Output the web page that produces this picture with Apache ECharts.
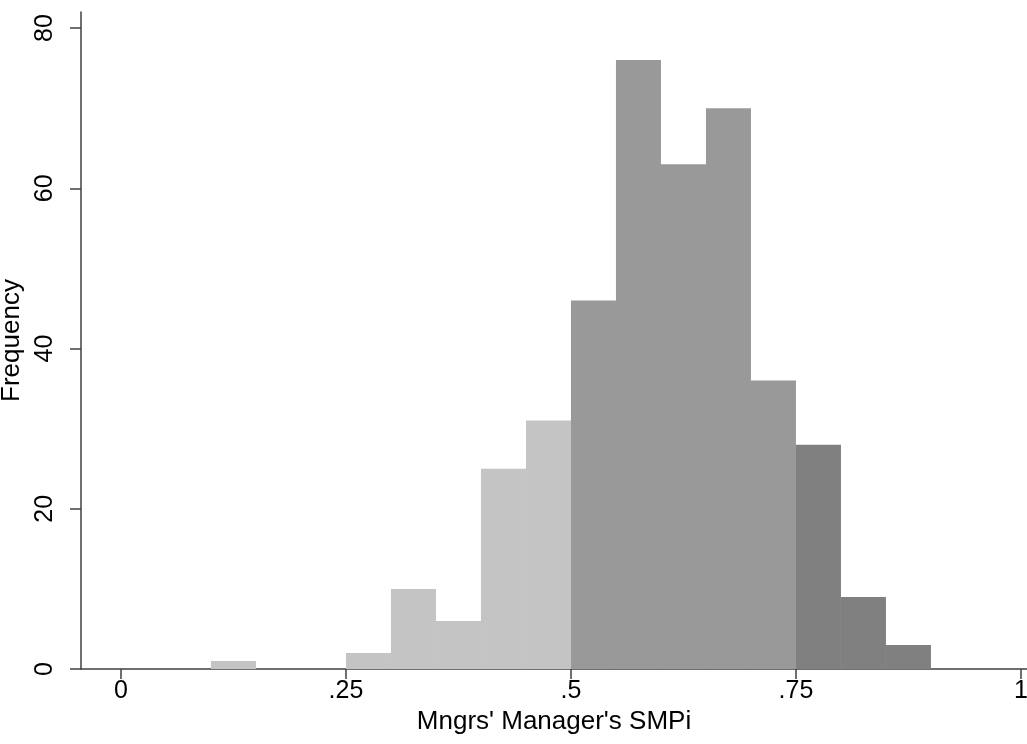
<!DOCTYPE html>
<html>
<head>
<meta charset="utf-8">
<script src="https://cdn.jsdelivr.net/npm/echarts@6/dist/echarts.min.js"></script>
<style>
  html, body { margin: 0; padding: 0; background: #ffffff; }
  #chart { width: 1027px; height: 744px; }
</style>
</head>
<body>
<div id="chart"></div>
<script>
// ---- data ----
const BIN_WIDTH = 0.05;
const lowBinStarts  = [0.10, 0.25, 0.30, 0.35, 0.40, 0.45];
const lowFreq       = [1, 2, 10, 6, 25, 31];
const midBinStarts  = [0.50, 0.55, 0.60, 0.65, 0.70];
const midFreq       = [46, 76, 63, 70, 36];
const highBinStarts = [0.75, 0.80, 0.85];
const highFreq      = [28, 9, 3];
const xTickValues = [0, 0.25, 0.5, 0.75, 1];
const xTickLabels = ['0', '.25', '.5', '.75', '1'];
const yTickValues = [0, 20, 40, 60, 80];
const xTitle = "Mngrs' Manager's SMPi";
const yTitle = 'Frequency';

const FONT = 'Liberation Sans, Arial, sans-serif';
const FS = 25;
const TITLE_FS = 26;

function toData(starts, freqs) {
  return starts.map((s, i) => [s, s + BIN_WIDTH, freqs[i]]);
}

function makeSeries(name, starts, freqs, color) {
  return {
    name: name,
    type: 'custom',
    data: toData(starts, freqs),
    encode: { x: [0, 1], y: 2 },
    renderItem: function (params, api) {
      const p0 = api.coord([api.value(0), api.value(2)]);
      const p1 = api.coord([api.value(1), 0]);
      return {
        type: 'rect',
        shape: { x: p0[0], y: p0[1], width: p1[0] - p0[0], height: p1[1] - p0[1] },
        style: { fill: color }
      };
    },
    z: 1
  };
}

const chart = echarts.init(document.getElementById('chart'), null, { renderer: 'canvas' });
chart.setOption({
  animation: false,
  backgroundColor: '#ffffff',
  grid: { left: 81, right: 0, top: 12, bottom: 75, containLabel: false, outerBoundsMode: 'none' },
  xAxis: {
    type: 'value',
    min: -0.0444,
    max: 1.0067,
    name: xTitle,
    nameLocation: 'middle',
    nameGap: 26,
    nameTextStyle: { fontFamily: FONT, fontSize: TITLE_FS, color: '#000' },
    axisLine: { show: true, onZero: false, lineStyle: { color: '#404040', width: 1.5 } },
    axisTick: { show: true, length: 10, customValues: xTickValues, lineStyle: { color: '#404040', width: 1.5 } },
    axisLabel: {
      customValues: xTickValues,
      margin: 10,
      fontFamily: FONT, fontSize: FS, color: '#000',
      formatter: function (v) {
        const idx = xTickValues.findIndex(t => Math.abs(t - v) < 1e-9);
        return idx >= 0 ? xTickLabels[idx] : '';
      }
    },
    splitLine: { show: false }
  },
  yAxis: {
    type: 'value',
    min: 0,
    max: 82,
    name: yTitle,
    nameLocation: 'middle',
    nameGap: 38,
    nameTextStyle: { fontFamily: FONT, fontSize: TITLE_FS, color: '#000' },
    axisLine: { show: true, onZero: false, lineStyle: { color: '#404040', width: 1.5 } },
    axisTick: { show: true, length: 11, customValues: yTickValues, lineStyle: { color: '#404040', width: 1.5 } },
    axisLabel: {
      customValues: yTickValues,
      rotate: 90,
      margin: 23,
      fontFamily: FONT, fontSize: FS, color: '#000'
    },
    splitLine: { show: false }
  },
  series: [
    makeSeries('low', lowBinStarts, lowFreq, '#c4c4c4'),
    makeSeries('mid', midBinStarts, midFreq, '#999999'),
    makeSeries('high', highBinStarts, highFreq, '#808080')
  ]
});
</script>
</body>
</html>
